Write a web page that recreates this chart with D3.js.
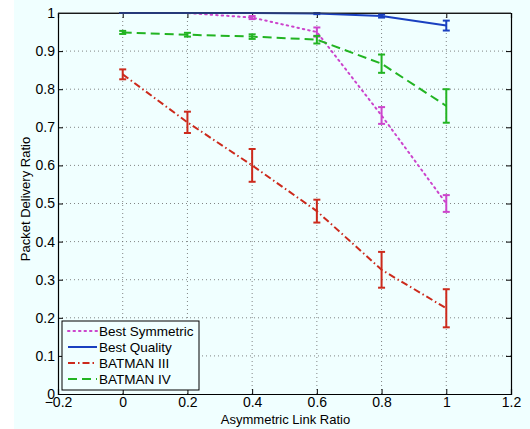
<!DOCTYPE html>
<html>
<head>
<meta charset="utf-8">
<script src="https://cdn.jsdelivr.net/npm/d3@7"></script>
<style>
  body { margin: 0; background: #fff; }
  svg { display: block; font-family: "Liberation Sans", Arial, sans-serif; }
</style>
</head>
<body>
<div id="chart"></div>
<script>
// x positions (asymmetric link ratio)
const xValues = [0, 0.2, 0.4, 0.6, 0.8, 1];

// series: mean and error half-width
const bestSymmetric = [1.0, 1.0, 0.988, 0.95, 0.731, 0.50];
const bestSymmetricErr = [0, 0, 0.004, 0.012, 0.022, 0.022];
const bestQuality = [1.0, 1.0, 1.0, 0.999, 0.992, 0.967];
const bestQualityErr = [0, 0, 0, 0.002, 0.004, 0.013];
const batman3 = [0.839, 0.713, 0.60, 0.48, 0.326, 0.225];
const batman3Err = [0.013, 0.028, 0.043, 0.03, 0.047, 0.05];
const batman4 = [0.949, 0.943, 0.938, 0.93, 0.867, 0.756];
const batman4Err = [0.004, 0.005, 0.006, 0.01, 0.024, 0.044];

const seriesNames = ["Best Symmetric", "Best Quality", "BATMAN III", "BATMAN IV"];
const xTicks = [-0.2, 0, 0.2, 0.4, 0.6, 0.8, 1, 1.2];
const yTicks = [0, 0.1, 0.2, 0.3, 0.4, 0.5, 0.6, 0.7, 0.8, 0.9, 1];

const series = [
  { name: seriesNames[0], y: bestSymmetric, err: bestSymmetricErr, color: "#cc44cc", dash: "1.5,4", cap: "round" },
  { name: seriesNames[1], y: bestQuality, err: bestQualityErr, color: "#1a40c0", dash: null, cap: "butt" },
  { name: seriesNames[2], y: batman3, err: batman3Err, color: "#cc2a1c", dash: "7,3,1.5,3", cap: "butt" },
  { name: seriesNames[3], y: batman4, err: batman4Err, color: "#22b422", dash: "9,5", cap: "butt" }
];

const width = 530, height = 429;
const margin = { left: 58, right: 19, top: 13, bottom: 35 };
const pw = width - margin.left - margin.right;
const ph = height - margin.top - margin.bottom;

const svg = d3.select("#chart").append("svg")
  .attr("width", width)
  .attr("height", height);

// figure background
svg.append("rect")
  .attr("x", 14).attr("y", 0)
  .attr("width", width - 14).attr("height", height)
  .attr("fill", "#f0ffff");

const g = svg.append("g")
  .attr("transform", `translate(${margin.left},${margin.top})`);

const x = d3.scaleLinear().domain([-0.2, 1.2]).range([0, pw]);
const y = d3.scaleLinear().domain([0, 1]).range([ph, 0]);

// grid
g.append("g").selectAll("line")
  .data(xTicks.slice(1, -1))
  .enter().append("line")
  .attr("x1", d => x(d)).attr("x2", d => x(d))
  .attr("y1", 0).attr("y2", ph)
  .attr("stroke", "#666").attr("stroke-width", 0.8)
  .attr("stroke-dasharray", "1,3");
g.append("g").selectAll("line")
  .data(yTicks.slice(1, -1))
  .enter().append("line")
  .attr("x1", 0).attr("x2", pw)
  .attr("y1", d => y(d)).attr("y2", d => y(d))
  .attr("stroke", "#666").attr("stroke-width", 0.8)
  .attr("stroke-dasharray", "1,3");

// axes with inward ticks
const fmt = d => d === 0 ? "0" : (d < 0 ? "\u22120." + String(Math.round(-d * 10)) : (Number.isInteger(d) ? String(d) : d.toFixed(1)));
const xAxis = g.append("g").attr("transform", `translate(0,${ph})`)
  .call(d3.axisBottom(x).tickValues(xTicks).tickSize(-5).tickPadding(3).tickFormat(fmt));
const xAxisTop = g.append("g")
  .call(d3.axisTop(x).tickValues(xTicks).tickSize(-5).tickFormat(""));
const yAxis = g.append("g")
  .call(d3.axisLeft(y).tickValues(yTicks).tickSize(-5).tickPadding(3).tickFormat(fmt));
const yAxisRight = g.append("g").attr("transform", `translate(${pw},0)`)
  .call(d3.axisRight(y).tickValues(yTicks).tickSize(-5).tickFormat(""));

[xAxis, xAxisTop, yAxis, yAxisRight].forEach(a => {
  a.select(".domain").attr("stroke", "#000").attr("stroke-width", 1.2);
  a.selectAll(".tick line").attr("stroke", "#000");
  a.selectAll("text").attr("fill", "#000").style("font-size", "14px");
});

// series lines + error bars
const line = d3.line().x((d, i) => x(xValues[i])).y(d => y(d));
series.forEach(s => {
  g.append("path")
    .datum(s.y)
    .attr("d", line)
    .attr("fill", "none")
    .attr("stroke", s.color)
    .attr("stroke-width", 2)
    .attr("stroke-linecap", s.cap)
    .attr("stroke-dasharray", s.dash);

  const eb = g.append("g");
  s.y.forEach((v, i) => {
    const cx = x(xValues[i]);
    const top = y(Math.min(v + s.err[i], 1.0)), bot = y(v - s.err[i]);
    eb.append("line").attr("x1", cx).attr("x2", cx).attr("y1", top).attr("y2", bot)
      .attr("stroke", s.color).attr("stroke-width", 2);
    [top, bot].forEach(yy => {
      eb.append("line").attr("x1", cx - 3.5).attr("x2", cx + 3.5).attr("y1", yy).attr("y2", yy)
        .attr("stroke", s.color).attr("stroke-width", 2);
    });
  });
});

// redraw top axis line over series
g.append("line").attr("x1", 0).attr("x2", pw).attr("y1", 0).attr("y2", 0)
  .attr("stroke", "#333").attr("stroke-width", 1);

// axis labels
svg.append("text")
  .attr("x", margin.left + pw / 2 + 1).attr("y", 424)
  .attr("text-anchor", "middle")
  .style("font-size", "13px")
  .text("Asymmetric Link Ratio");
svg.append("text")
  .attr("transform", "translate(30,199) rotate(-90)")
  .attr("text-anchor", "middle")
  .style("font-size", "13px")
  .text("Packet Delivery Ratio");

// legend
const legend = svg.append("g").attr("transform", "translate(62,321)");
legend.append("rect")
  .attr("width", 137).attr("height", 69)
  .attr("fill", "#f0ffff")
  .attr("stroke", "#000").attr("stroke-width", 1);
series.forEach((s, i) => {
  const ly = 10 + i * 16;
  legend.append("line")
    .attr("x1", 6).attr("x2", 35).attr("y1", ly).attr("y2", ly)
    .attr("stroke", s.color).attr("stroke-width", 2)
    .attr("stroke-linecap", s.cap)
    .attr("stroke-dasharray", s.dash);
  legend.append("text")
    .attr("x", 37).attr("y", ly).attr("dy", "0.35em")
    .style("font-size", "13.5px")
    .text(s.name);
});
</script>
</body>
</html>
